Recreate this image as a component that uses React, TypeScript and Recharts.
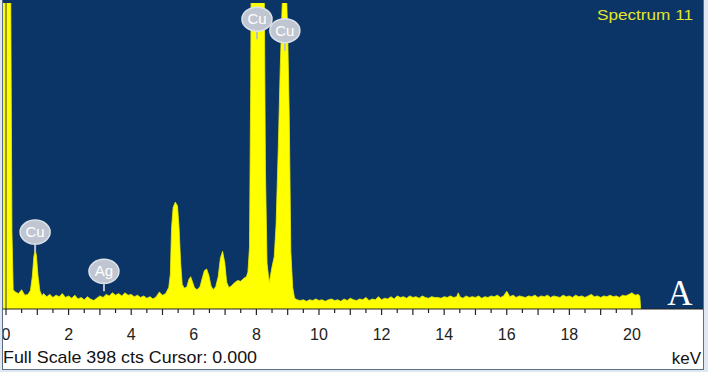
import { ComposedChart, Area, XAxis, YAxis, ReferenceDot, ReferenceLine } from 'recharts'

// spectrum (keV / counts), split in three bands
const lowKev = [-0.1, 0, 0.1, 0.15, 0.19, 0.23, 0.3, 0.4, 0.5, 0.6, 0.7, 0.78, 0.84, 0.89, 0.93, 0.97, 1.02, 1.08, 1.15,
  1.2, 1.3, 1.4, 1.5, 1.6, 1.7, 1.8, 1.9, 2.0, 2.1, 2.2, 2.3, 2.4, 2.5, 2.6, 2.7, 2.8, 2.9, 3.0, 3.1,
  3.2, 3.3, 3.4, 3.5, 3.6, 3.7, 3.8, 3.9, 4.0, 4.1, 4.2, 4.3, 4.4, 4.5, 4.6, 4.7, 4.8, 4.9, 5.0]
const lowCts = [600, 700, 600, 420, 100, 25, 22, 20, 25, 18, 19, 24, 42, 68, 77, 70, 44, 24, 17,
  20, 16, 19, 15, 18, 16, 20, 15, 17, 14, 18, 13, 15, 12, 16, 13, 11, 14, 17, 15,
  19, 17, 21, 18, 20, 17, 21, 18, 19, 16, 18, 15, 17, 14, 16, 13, 16, 22, 18]

const midKev = [5.1, 5.2, 5.25, 5.29, 5.34, 5.41, 5.48, 5.53, 5.58, 5.63, 5.7, 5.78, 5.84, 5.9, 5.96, 6.02, 6.1, 6.2,
  6.27, 6.34, 6.41, 6.48, 6.55, 6.62, 6.7, 6.78, 6.85, 6.92, 6.99, 7.05, 7.12, 7.2, 7.3, 7.4, 7.5, 7.6,
  7.68, 7.73, 7.78, 7.82, 7.86, 7.95, 8.04, 8.13, 8.2, 8.25, 8.29, 8.34, 8.41, 8.5, 8.57, 8.63, 8.7, 8.76,
  8.82, 8.88, 8.94, 9.0, 9.05, 9.1, 9.16, 9.22, 9.3]
const midCts = [20, 28, 45, 105, 132, 139, 134, 105, 60, 32, 27, 29, 38, 42, 35, 28, 25, 29,
  40, 50, 52, 44, 30, 25, 29, 42, 66, 75, 60, 35, 28, 30, 34, 37, 36, 40,
  42, 48, 80, 300, 700, 1200, 1400, 1200, 800, 420, 180, 60, 34, 55, 68, 110, 210, 310,
  390, 440, 440, 360, 250, 75, 28, 14, 12]

const highKev = [9.4, 9.5, 9.6, 9.7, 9.8, 9.9, 10.0, 10.1, 10.2, 10.3, 10.4, 10.5, 10.6, 10.7, 10.8, 10.9,
  11.0, 11.1, 11.2, 11.3, 11.4, 11.5, 11.6, 11.7, 11.8, 11.9, 12.0, 12.1, 12.2, 12.3, 12.4, 12.5, 12.6,
  12.7, 12.8, 12.9, 13.0, 13.1, 13.2, 13.3, 13.4, 13.5, 13.6, 13.7, 13.8, 13.9, 14.0, 14.1, 14.2, 14.3,
  14.4, 14.45, 14.5, 14.6, 14.7, 14.8, 14.9,
  15.0, 15.1, 15.2, 15.3, 15.4, 15.5, 15.6, 15.7, 15.8, 15.9, 16.0, 16.1, 16.2, 16.3, 16.4, 16.5, 16.6,
  16.7, 16.8, 16.9, 17.0, 17.1, 17.2, 17.3, 17.4, 17.5, 17.6, 17.7, 17.8, 17.9, 18.0, 18.1, 18.2, 18.3,
  18.4, 18.5, 18.6, 18.7, 18.8, 18.9, 19.0, 19.1, 19.2, 19.3, 19.4, 19.5, 19.6, 19.7, 19.8, 19.9, 20.0,
  20.1, 20.2, 20.25, 20.28]
const highCts = [11, 12, 10, 12, 11, 13, 11, 12, 10, 12, 13, 11, 12, 10, 13, 11,
  14, 12, 11, 13, 12, 15, 11, 13, 12, 16, 12, 14, 13, 16, 13, 17, 15,
  16, 14, 17, 15, 16, 14, 17, 15, 14, 16, 15, 15, 14, 16, 15, 17, 15,
  16, 21, 16, 14, 17, 15, 16,
  15, 17, 14, 16, 15, 17, 16, 18, 15, 17, 23, 16, 18, 15, 17, 16, 15,
  17, 16, 18, 15, 17, 16, 18, 15, 17, 16, 15, 18, 16, 17, 15, 18, 16,
  17, 15, 17, 19, 16, 17, 15, 17, 16, 18, 16, 17, 15, 18, 17, 19, 21,
  18, 19, 17, 0]

// peak tags
const tagKev = [0.93, 3.13, 8.02, 8.91]
const tagCts = [100, 49, 377, 362]
const tagText = ['Cu', 'Ag', 'Cu', 'Cu']

const tickKev = [0, 0.5, 1, 1.5, 2, 2.5, 3, 3.5, 4, 4.5, 5, 5.5, 6, 6.5, 7, 7.5, 8, 8.5, 9, 9.5, 10,
  10.5, 11, 11.5, 12, 12.5, 13, 13.5, 14, 14.5, 15, 15.5, 16, 16.5, 17, 17.5, 18, 18.5, 19, 19.5, 20]
const tickLabels = [0, 2, 4, 6, 8, 10, 12, 14, 16, 18, 20]

const fullScale = 398

const spectrum = [
  ...lowKev.map((k, i) => ({ kev: k, cts: lowCts[i] })),
  ...midKev.map((k, i) => ({ kev: k, cts: midCts[i] })),
  ...highKev.map((k, i) => ({ kev: k, cts: highCts[i] })),
]

const SANS = '"Liberation Sans", Arial, sans-serif'

function KevTick(props: any) {
  const { x, y, payload } = props
  const v = payload.value
  const whole = Number.isInteger(v)
  return (
    <g>
      <line x1={x} y1={y} x2={x} y2={y + (whole ? 6 : 4)} stroke="#222" strokeWidth={1.2} />
      {tickLabels.includes(v) && (
        <text x={x} y={y + 31} textAnchor="middle" fontSize={16} fontFamily={SANS} fill="#222">
          {v}
        </text>
      )}
    </g>
  )
}

function PeakTag({ cx, cy, text }: any) {
  return (
    <g>
      <line x1={cx} y1={cy + 8} x2={cx} y2={cy + 20} stroke="#b8c0cc" strokeWidth={2} />
      <ellipse cx={cx} cy={cy} rx={15} ry={12} fill="#bfc6d1" stroke="#dde2e9" strokeWidth={1.5} />
      <text x={cx} y={cy + 5} textAnchor="middle" fontSize={15} fontFamily={SANS} fill="#ffffff">
        {text}
      </text>
    </g>
  )
}

export default function App() {
  return (
    <div style={{ position: 'absolute', left: 0, top: 0, width: 708, height: 372, background: '#dfe7f0', overflow: 'hidden' }}>
      <div
        style={{
          position: 'absolute', left: 2, top: 0, width: 702, height: 370, background: '#fff',
          boxSizing: 'border-box', borderLeft: '1px solid #5d6d84', borderRight: '1px solid #5d6d84',
          borderBottom: '1px solid #5d6d84',
        }}
      />
      <div style={{ position: 'absolute', left: 3, top: 0, width: 700, height: 309, background: '#0b3567' }} />
      <div style={{ position: 'absolute', left: 0, top: 0 }}>
        <ComposedChart width={708} height={372} data={spectrum} margin={{ top: 3, right: 5, bottom: 0, left: 3 }}>
          <XAxis
            dataKey="kev"
            type="number"
            domain={[-0.096, 22.27]}
            allowDataOverflow
            ticks={tickKev}
            interval={0}
            height={63}
            tickLine={false}
            tickSize={0}
            tickMargin={0}
            axisLine={{ stroke: '#222', strokeWidth: 1.2 }}
            tick={<KevTick />}
          />
          <YAxis hide domain={[0, fullScale]} allowDataOverflow />
          <Area
            type="linear"
            dataKey="cts"
            fill="#ffff00"
            fillOpacity={1}
            stroke="#eeee00"
            strokeWidth={0.8}
            isAnimationActive={false}
          />
          <ReferenceLine x={0} stroke="#3a3a20" strokeWidth={1} />
          {tagKev.map((k, i) => (
            <ReferenceDot
              key={i}
              x={k}
              y={tagCts[i]}
              r={12}
              shape={(p: any) => <PeakTag cx={p.cx} cy={p.cy} text={tagText[i]} />}
            />
          ))}
        </ComposedChart>
      </div>
      <svg width={708} height={372} style={{ position: 'absolute', left: 0, top: 0, pointerEvents: 'none' }}>
        <rect x={0} y={310} width={2} height={62} fill="#dfe7f0" />
        <line x1={2.5} y1={309} x2={2.5} y2={370} stroke="#5d6d84" />
        <text x={693} y={20} textAnchor="end" fontSize={15} fontFamily={SANS} fill="#e6e62a" textLength={96} lengthAdjust="spacingAndGlyphs">
          Spectrum 11
        </text>
        <text x={680} y={305} textAnchor="middle" fontSize={35} fontFamily='"Liberation Serif", "Times New Roman", serif' fill="#ffffff">
          A
        </text>
        <text x={3} y={363} fontSize={17} fontFamily={SANS} fill="#111" textLength={254} lengthAdjust="spacingAndGlyphs">
          Full Scale 398 cts Cursor: 0.000
        </text>
        <text x={701} y={364} textAnchor="end" fontSize={17} fontFamily={SANS} fill="#111">
          keV
        </text>
      </svg>
    </div>
  )
}
